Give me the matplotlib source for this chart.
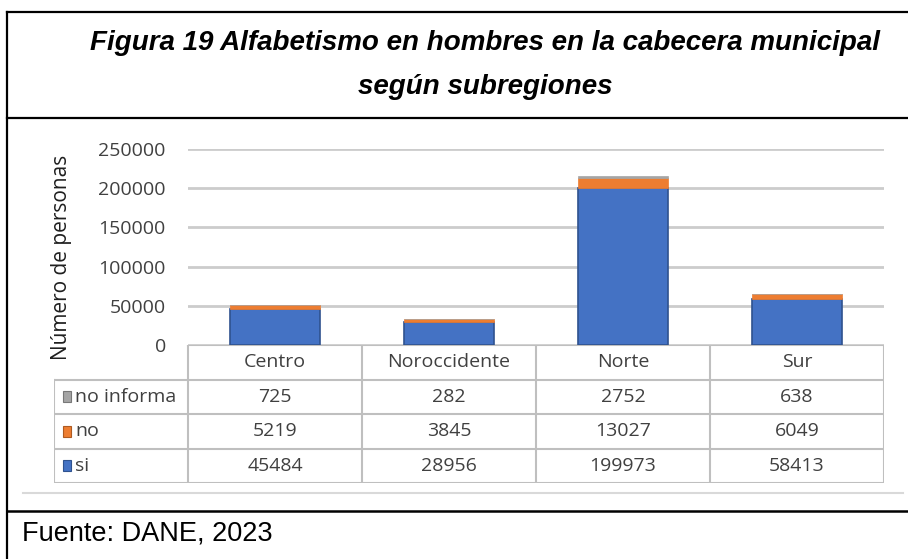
import numpy as np
import matplotlib
import matplotlib.pyplot as plt
from matplotlib.lines import Line2D
from matplotlib.patches import Rectangle

matplotlib.use('Agg')

# data
categories = ['Centro', 'Noroccidente', 'Norte', 'Sur']
si_vals = [45484, 28956, 199973, 58413]
no_vals = [5219, 3845, 13027, 6049]
no_informa_vals = [725, 282, 2752, 638]
y_ticks = [0, 50000, 100000, 150000, 200000, 250000]

colors = {'si': '#4472C4', 'no': '#ED7D31', 'no informa': '#A5A5A5'}
edges = {'si': '#2F528F', 'no': '#AE5A21', 'no informa': '#787878'}

W, H = 908, 559
fig = plt.figure(figsize=(W / 100, H / 100), dpi=100)

chart_font = 'Open Sans'
text_col = '#404040'
fs = 14


def fx(px):
    return px / W


def fy(py):
    return 1 - py / H


# bar chart axes
ax = fig.add_axes([fx(188), fy(345), fx(884) - fx(188), fy(149) - fy(345)])
x = np.arange(len(categories))
si = np.array(si_vals)
no = np.array(no_vals)
ni = np.array(no_informa_vals)
ax.bar(x, si, width=0.52, color=colors['si'], edgecolor=edges['si'], linewidth=1.2, zorder=3)
ax.bar(x, no, width=0.52, bottom=si, color=colors['no'], edgecolor=colors['no'], linewidth=0.5, zorder=3)
ax.bar(x, ni, width=0.52, bottom=si + no, color=colors['no informa'], edgecolor=colors['no informa'],
       linewidth=0.5, zorder=3)
ax.set_xlim(-0.5, len(categories) - 0.5)
ax.set_ylim(0, 250000)
ax.set_yticks(y_ticks)
ax.set_yticklabels([str(t) for t in y_ticks], fontsize=fs, family=chart_font, color=text_col)
ax.yaxis.grid(True, color='#CCCCCC', linewidth=2, zorder=0)
ax.set_xticks([])
ax.tick_params(axis='y', length=0, pad=16)
for s in ax.spines.values():
    s.set_visible(False)
fig.text(fx(62), fy(257), 'Número de personas', rotation=90, ha='center', va='center',
         fontsize=15, family=chart_font, color='#1F1F1F')

# data table under the chart
legend_w = (188 - 54) / 174.0
tab = fig.add_axes([fx(54), fy(483), fx(884) - fx(54), fy(345) - fy(483)])
tab.set_xlim(-0.5 - legend_w, len(categories) - 0.5)
tab.set_ylim(0, 4)
tab.axis('off')
grid_c = '#BFBFBF'
lw = 1.5
tab.plot([-0.5, len(categories) - 0.5], [4, 4], color=grid_c, lw=lw)
for yy in [0, 1, 2, 3]:
    tab.plot([-0.5 - legend_w, len(categories) - 0.5], [yy, yy], color=grid_c, lw=lw)
tab.plot([-0.5 - legend_w, -0.5 - legend_w], [0, 3], color=grid_c, lw=lw)
for i in range(len(categories) + 1):
    tab.plot([i - 0.5, i - 0.5], [0, 4], color=grid_c, lw=lw)

for i, c in enumerate(categories):
    tab.text(i, 3.5, c, ha='center', va='center', fontsize=fs, family=chart_font, color=text_col)

rows = [('no informa', no_informa_vals), ('no', no_vals), ('si', si_vals)]
for r, (name, vals) in enumerate(rows):
    yc = 2.5 - r
    for i, v in enumerate(vals):
        tab.text(i, yc, str(v), ha='center', va='center', fontsize=fs, family=chart_font, color=text_col)
    tab.add_patch(Rectangle((-0.5 - legend_w + 0.05, yc - 0.16), 0.05, 0.32,
                            facecolor=colors[name], edgecolor=edges[name], lw=0.8))
    tab.text(-0.5 - legend_w + 0.12, yc, name, ha='left', va='center', fontsize=fs,
             family=chart_font, color=text_col)

# frame lines of the document box
fig.add_artist(Line2D([fx(7), fx(7)], [fy(12), fy(559)], color='black', lw=1.6))
fig.add_artist(Line2D([fx(7), 1], [fy(12), fy(12)], color='black', lw=1.6))
fig.add_artist(Line2D([fx(7), 1], [fy(118), fy(118)], color='black', lw=1.6))
fig.add_artist(Line2D([fx(7), 1], [fy(511), fy(511)], color='black', lw=1.8))
fig.add_artist(Line2D([fx(23), fx(903)], [fy(493), fy(493)], color='#D9D9D9', lw=1.5))

title_kw = dict(ha='center', va='center', fontsize=20, family='Liberation Sans',
                fontweight='bold', style='italic', color='black')
fig.text(fx(485), fy(43), 'Figura 19 Alfabetismo en hombres en la cabecera municipal', **title_kw)
fig.text(fx(485), fy(87), 'según subregiones', **title_kw)

fig.text(fx(22), fy(533), 'Fuente: DANE, 2023', ha='left', va='center', fontsize=19.5,
         family='Liberation Sans', color='black')

fig.savefig('out.png', dpi=100)
